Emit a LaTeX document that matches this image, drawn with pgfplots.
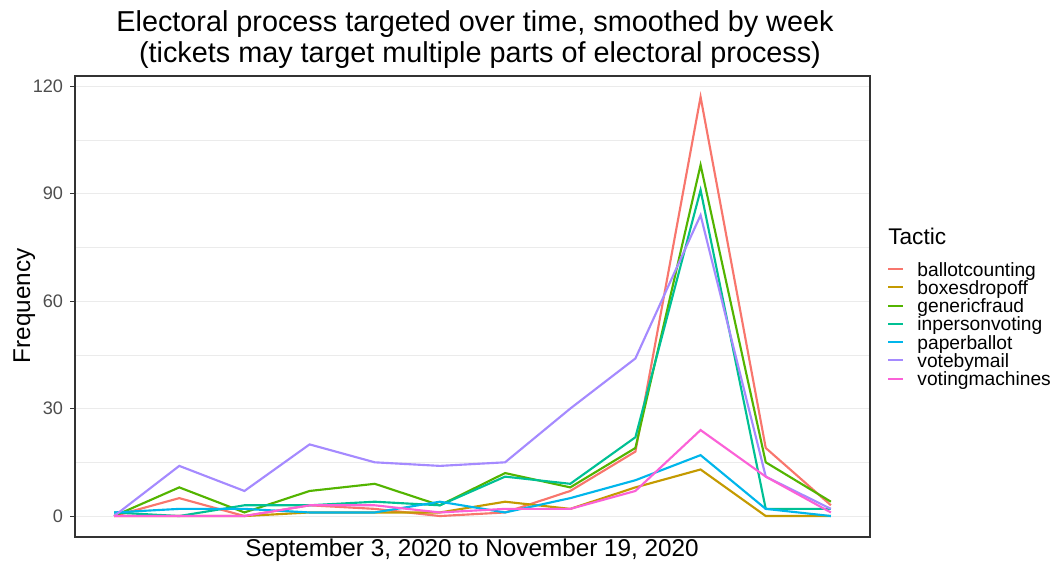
\documentclass[border=0pt]{standalone}
\usepackage{pgfplots}
\pgfplotsset{compat=1.18}
\usepackage{fontspec}
\setmainfont{Liberation Sans}
\definecolor{cA}{HTML}{F8766D}
\definecolor{cB}{HTML}{C49A00}
\definecolor{cC}{HTML}{53B400}
\definecolor{cD}{HTML}{00C094}
\definecolor{cE}{HTML}{00B6EB}
\definecolor{cF}{HTML}{A58AFF}
\definecolor{cG}{HTML}{FB61D7}
\definecolor{gridc}{HTML}{EBEBEB}
\definecolor{borderc}{HTML}{333333}
\definecolor{tickc}{HTML}{4D4D4D}
\begin{document}
\begin{tikzpicture}[x=1pt,y=1pt]
\useasboundingbox (0,0) rectangle (789,422.25);
\begin{axis}[
  at={(56.25pt,19.5pt)}, anchor=south west,
  scale only axis, width=596.25pt, height=345.75pt,
  xmin=-0.6, xmax=11.6, ymin=-5.85, ymax=122.85,
  xtick=\empty,
  ytick={0,30,60,90,120},
  minor ytick={15,45,75,105},
  ytick pos=left,
  grid=both,
  major grid style={color=gridc, line width=0.8pt},
  minor grid style={color=gridc, line width=0.45pt},
  axis line style={color=borderc, line width=0.8pt},
  tick align=outside,
  major tick length=3.5pt, minor tick length=0pt,
  tick style={color=borderc, line width=0.8pt},
  yticklabel style={font=\fontsize{13.6}{15}\selectfont, color=tickc, inner sep=0pt, anchor=east, xshift=-5.25pt},
  /pgf/number format/assume math mode=true,
  legend cell align=left,
  legend style={at={(axis description cs:1.0214,0.597)}, anchor=north west,
    draw=none, fill=none, inner sep=0pt, row sep=0pt,
    font=\fontsize{14.4}{15}\selectfont,
    nodes={inner sep=0pt, text height=10.5pt, text depth=3.2pt}},
  legend image code/.code={\draw[#1, line width=1.6pt] (0pt,1.6pt) -- (11.25pt,1.6pt); \path (0pt,0pt) (21pt,0pt);},
  every axis plot/.append style={line width=1.6pt},
]
\addplot[cA] coordinates {(0,0) (1,5) (2,0) (3,3) (4,2) (5,0) (6,1) (7,7) (8,18) (9,117) (10,19) (11,3)};
\addlegendentry{ballotcounting}
\addplot[cB] coordinates {(0,0) (1,0) (2,0) (3,1) (4,1) (5,1) (6,4) (7,2) (8,8) (9,13) (10,0) (11,0)};
\addlegendentry{boxesdropoff}
\addplot[cC] coordinates {(0,0) (1,8) (2,1) (3,7) (4,9) (5,3) (6,12) (7,8) (8,19) (9,98) (10,15) (11,4)};
\addlegendentry{genericfraud}
\addplot[cD] coordinates {(0,1) (1,0) (2,3) (3,3) (4,4) (5,3) (6,11) (7,9) (8,22) (9,91) (10,2) (11,2)};
\addlegendentry{inpersonvoting}
\addplot[cE] coordinates {(0,1) (1,2) (2,2) (3,1) (4,1) (5,4) (6,1) (7,5) (8,10) (9,17) (10,2) (11,0)};
\addlegendentry{paperballot}
\addplot[cF] coordinates {(0,0) (1,14) (2,7) (3,20) (4,15) (5,14) (6,15) (7,30) (8,44) (9,84) (10,11) (11,2)};
\addlegendentry{votebymail}
\addplot[cG] coordinates {(0,0) (1,0) (2,0) (3,3) (4,3) (5,1) (6,2) (7,2) (8,7) (9,24) (10,11) (11,1)};
\addlegendentry{votingmachines}
\end{axis}
\node[anchor=base, font=\fontsize{21.6}{24}\selectfont] at (356.25,398.25) {Electoral process targeted over time, smoothed by week};
\node[anchor=base, font=\fontsize{21.6}{24}\selectfont] at (357,375) {\ (tickets may target multiple parts of electoral process)};
\node[anchor=base, font=\fontsize{18.2}{20}\selectfont] at (354,4.5) {September 3, 2020 to November 19, 2020};
\node[anchor=base, rotate=90, font=\fontsize{18.2}{20}\selectfont] at (22.5,192.75) {Frequency};
\node[anchor=base west, inner xsep=0pt, font=\fontsize{17}{18}\selectfont] at (666,238.5) {Tactic};
\end{tikzpicture}
\end{document}
